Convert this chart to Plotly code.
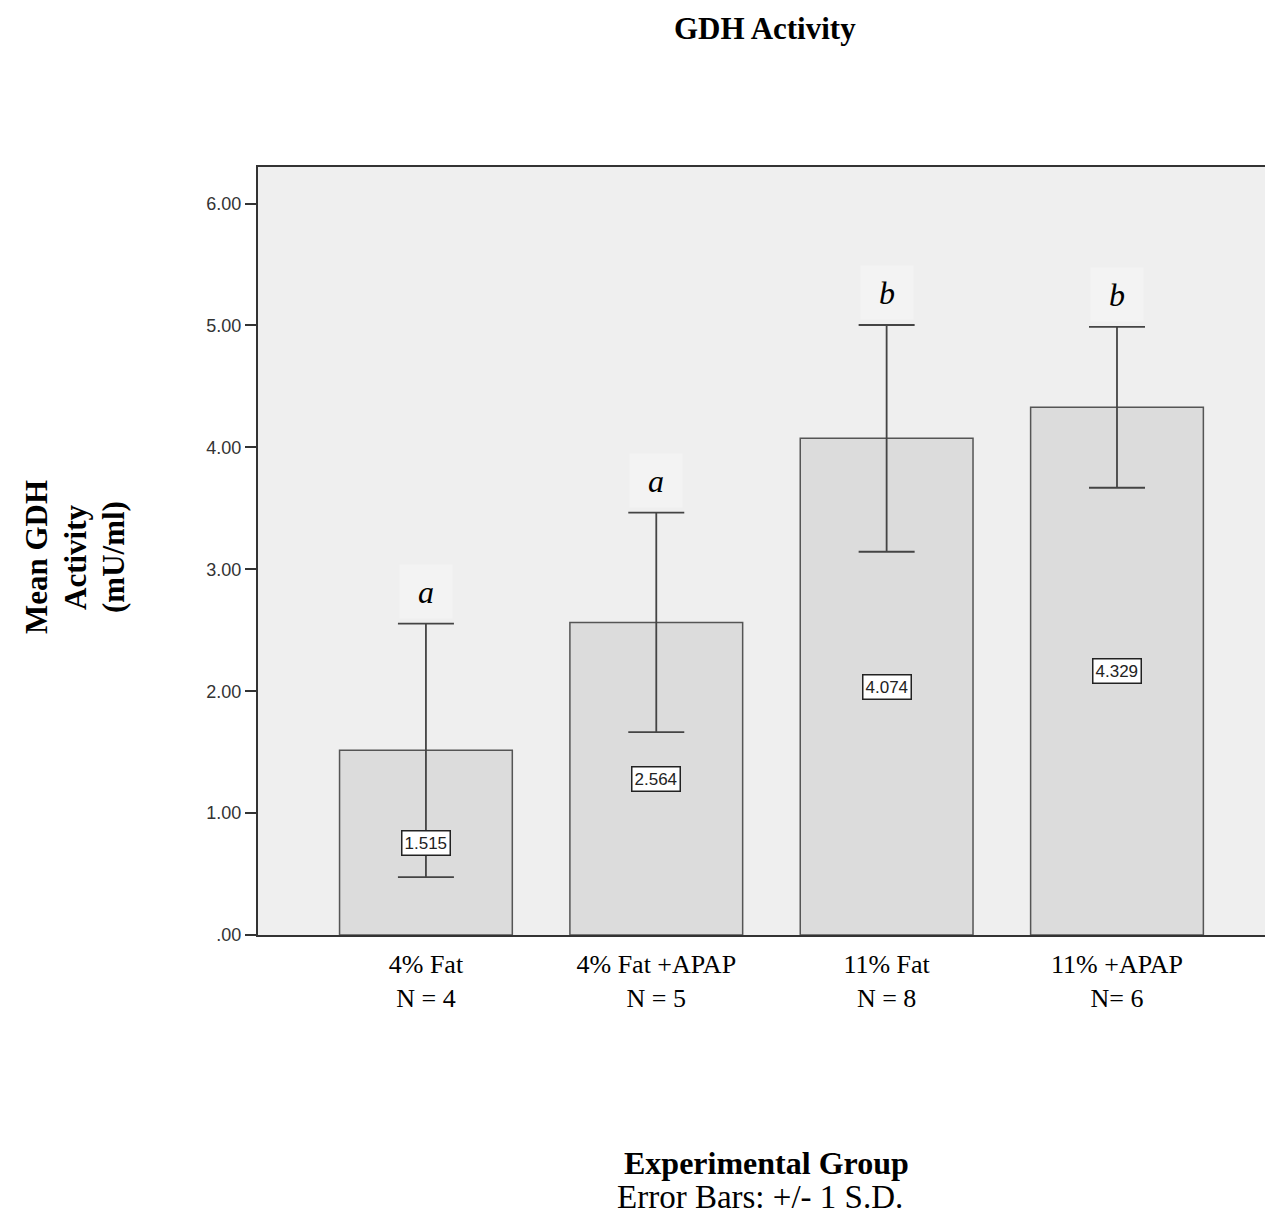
import plotly.graph_objects as go

groups = ["4% Fat<br>N = 4", "4% Fat +APAP<br>N = 5", "11% Fat<br>N = 8", "11% +APAP<br>N= 6"]
means = [1.515, 2.564, 4.074, 4.329]
sds = [1.04, 0.90, 0.93, 0.66]
letters = ["a", "a", "b", "b"]
value_labels = ["1.515", "2.564", "4.074", "4.329"]
y_ticks = [0, 1, 2, 3, 4, 5, 6]
y_tick_text = [".00", "1.00", "2.00", "3.00", "4.00", "5.00", "6.00"]

xs = list(range(len(groups)))

# page offset: the HTML body has an 8px margin
W, H = 1273, 1209
L, T, B = 250, 159, 282
PW, PH = W - L, H - T - B


def px(page_x):
    return (page_x - 8 - L) / PW


def py(page_y):
    return (H - B - (page_y - 8)) / PH


SERIF = "Liberation Serif, Times New Roman, serif"
SANS = "Liberation Sans, Arial, sans-serif"

fig = go.Figure()
fig.add_trace(go.Bar(
    x=xs, y=means, width=0.75,
    marker=dict(color="#dcdcdc", line=dict(color="#555555", width=1.5)),
    error_y=dict(type="data", array=sds, visible=True, color="#444444", thickness=1.8, width=28),
    showlegend=False, hoverinfo="skip",
))

annotations = []
for x, m, s, lt, vl in zip(xs, means, sds, letters, value_labels):
    annotations.append(dict(
        x=x, y=m / 2, xref="x", yref="y", text=vl, showarrow=False,
        font=dict(family=SANS, size=17, color="#222222"),
        bgcolor="white", bordercolor="#222222", borderwidth=1.5, borderpad=2,
    ))
    annotations.append(dict(
        x=x, y=m + s, xref="x", yref="y", text="<i>" + lt + "</i>", showarrow=False,
        yanchor="bottom", yshift=5, width=52, height=53, valign="middle",
        font=dict(family=SERIF, size=32, color="black"),
        bgcolor="#f3f3f3", borderpad=0,
    ))

text_items = [
    ("<b>GDH Activity</b>", 765, 28, 0, 31),
    ("<b>Mean GDH</b>", 36, 557, -90, 31),
    ("<b>Activity</b>", 75, 557, -90, 31),
    ("<b>(mU/ml)</b>", 113, 557, -90, 31),
    ("<b>Experimental Group</b>", 766, 1163, 0, 32),
    ("Error Bars: +/- 1 S.D.", 760, 1197, 0, 33),
]
for txt, xx, yy, ang, sz in text_items:
    annotations.append(dict(
        text=txt, x=px(xx), y=py(yy), xref="paper", yref="paper", showarrow=False,
        xanchor="center", yanchor="middle", textangle=ang,
        font=dict(family=SERIF, size=sz, color="black"),
    ))

fig.update_layout(
    width=W, height=H,
    margin=dict(l=L, r=0, t=T, b=B, pad=0),
    paper_bgcolor="white", plot_bgcolor="#efefef",
    annotations=annotations,
    xaxis=dict(
        range=[-0.729, 3.712], tickvals=xs, ticktext=groups, showgrid=False, zeroline=False,
        showline=True, linecolor="#333333", linewidth=2, mirror=True, ticks="",
        ticklabelstandoff=5,
        tickfont=dict(family=SERIF, size=26, color="black"),
    ),
    yaxis=dict(
        range=[0, 6.3], tickvals=y_ticks, ticktext=y_tick_text, showgrid=False, zeroline=False,
        showline=True, linecolor="#333333", linewidth=2, ticks="outside", ticklen=11,
        tickwidth=2, tickcolor="#333333",
        tickfont=dict(family=SANS, size=18, color="#333333"),
    ),
)

fig.write_html("out.html")
